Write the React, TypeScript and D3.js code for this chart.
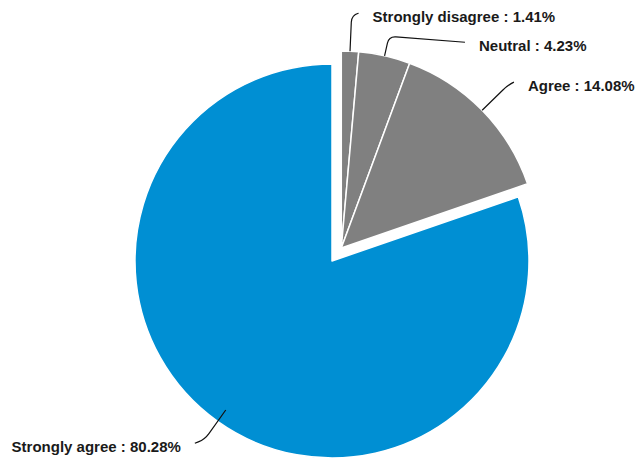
import React from "react";
import * as d3 from "d3";

const categories = ["Strongly disagree", "Neutral", "Agree", "Strongly agree"];
const values = [1.41, 4.23, 14.08, 80.28];
const colors = ["#808080", "#808080", "#808080", "#008fd3"];
// which slices are pulled out together
const exploded = [true, true, true, false];

const W = 637;
const H = 462;
const cx = 332;
const cy = 261;
const R = 197;
const explodeDist = 16;

// label line styling: [startOffset, elbowOffset, endDx, endDy]
const lineStyle: [number, number, number, number][] = [
  [0, 36, 7, -2],
  [0, 20, 76, 6],
  [0, 36, 6, -3],
  [-14, 22, -10, 4],
];

export default function App() {
  const pie = d3
    .pie<number>()
    .sort(null)
    .value((d) => d)(values);
  const arc = d3.arc<d3.PieArcDatum<number>>().innerRadius(0).outerRadius(R);

  const grp = pie.filter((_, i) => exploded[i]);
  const gStart = d3.min(grp, (d) => d.startAngle)!;
  const gEnd = d3.max(grp, (d) => d.endAngle)!;
  const gMid = (gStart + gEnd) / 2;
  const ox = Math.sin(gMid) * explodeDist;
  const oy = -Math.cos(gMid) * explodeDist;

  const polar = (x0: number, y0: number, r: number, a: number) => [
    x0 + Math.sin(a) * r,
    y0 - Math.cos(a) * r,
  ];

  return (
    <svg width={W} height={H} style={{ position: "absolute", left: 0, top: 0 }}>
      <rect width={W} height={H} fill="#fff" />
      {pie.map((d, i) => {
        const dx = exploded[i] ? ox : 0;
        const dy = exploded[i] ? oy : 0;
        return (
          <path
            key={"s" + i}
            d={arc(d)!}
            transform={`translate(${cx + dx},${cy + dy})`}
            fill={colors[i]}
            stroke="#fff"
            strokeWidth={1.5}
            strokeLinejoin="round"
          />
        );
      })}
      {pie.map((d, i) => {
        const x0 = cx + (exploded[i] ? ox : 0);
        const y0 = cy + (exploded[i] ? oy : 0);
        const a = (d.startAngle + d.endAngle) / 2;
        const [so, eo, edx, edy] = lineStyle[i];
        const s = polar(x0, y0, R + so, a);
        const e = polar(x0, y0, R + eo, a);
        const end = [e[0] + edx, e[1] + edy];
        const k = 7;
        const l1 = Math.hypot(e[0] - s[0], e[1] - s[1]);
        const l2 = Math.hypot(end[0] - e[0], end[1] - e[1]);
        const k1 = Math.min(k, l1 / 2);
        const k2 = Math.min(k, l2);
        const A = [e[0] - ((e[0] - s[0]) / l1) * k1, e[1] - ((e[1] - s[1]) / l1) * k1];
        const B = [e[0] + ((end[0] - e[0]) / l2) * k2, e[1] + ((end[1] - e[1]) / l2) * k2];
        const p = d3.path();
        p.moveTo(s[0], s[1]);
        p.lineTo(A[0], A[1]);
        p.quadraticCurveTo(e[0], e[1], B[0], B[1]);
        p.lineTo(end[0], end[1]);
        const right = edx >= 0;
        return (
          <g key={"l" + i}>
            <path d={p.toString()} fill="none" stroke="#111" strokeWidth={1.2} />
            <text
              x={right ? end[0] + 14 : end[0] - 14}
              y={end[1] + 3.5}
              textAnchor={right ? "start" : "end"}
              dominantBaseline="central"
              fontFamily="'Liberation Sans', Arial, sans-serif"
              fontWeight="bold"
              fontSize={15}
              fill="#1a1a1a"
            >
              {`${categories[i]} : ${values[i].toFixed(2)}%`}
            </text>
          </g>
        );
      })}
    </svg>
  );
}
